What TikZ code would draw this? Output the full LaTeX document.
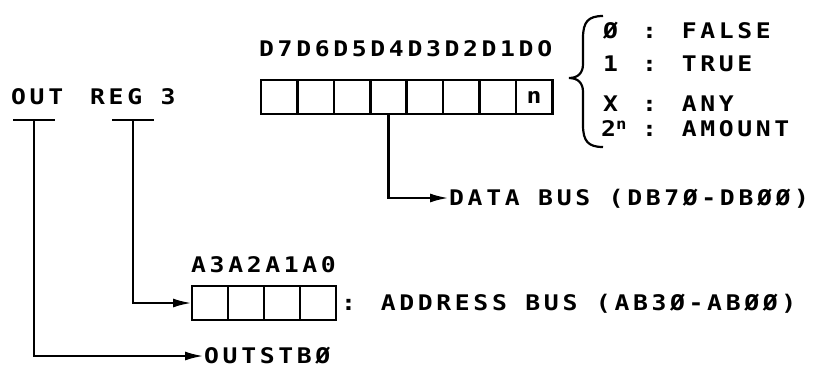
\documentclass[tikz,border=0pt]{standalone}
\usepackage{fontspec}
\usepackage{tikz}
\usetikzlibrary{positioning, arrows.meta}
\newfontfamily\printfont[FakeStretch=1.15,LetterSpace=17]{DejaVu Sans Mono Bold}

\begin{document}
\begin{tikzpicture}[x=1pt,y=-1pt,>={Latex[length=19pt,width=9pt]},
                    cell/.style={draw,line width=2.6pt,minimum width=36.4pt,minimum height=34pt,inner sep=0pt,outer sep=0pt,font=\printfont\fontsize{21.5}{25}\selectfont},
                    lbl/.style={anchor=west,inner sep=0pt,text height=15.7pt,text depth=0pt,font=\printfont\fontsize{21.5}{25}\selectfont},
                    wire/.style={line width=2.6pt}]

  \useasboundingbox (0,0) rectangle (813,368);

  % data register
  \node[cell] (d7) at (279.2,97) {};
  \node[cell] (d6) [right=0pt of d7] {};
  \node[cell] (d5) [right=0pt of d6] {};
  \node[cell] (d4) [right=0pt of d5] {};
  \node[cell] (d3) [right=0pt of d4] {};
  \node[cell] (d2) [right=0pt of d3] {};
  \node[cell] (d1) [right=0pt of d2] {};
  \node[cell] (d0) [right=0pt of d1] {n};
  \node[lbl] (dbits) at (259,49) {D7D6D5D4D3D2D1DO};

  % address register
  \node[cell,minimum width=36pt] (a3) at (210,303) {};
  \node[cell,minimum width=36pt] (a2) [right=0pt of a3] {};
  \node[cell,minimum width=36pt] (a1) [right=0pt of a2] {};
  \node[cell,minimum width=36pt] (a0) [right=0pt of a1] {};
  \node[lbl] (abits) at (191,265) {A3A2A1A0};
  \node[lbl] (abus) [right=5pt of a0] {: ADDRESS BUS (AB3Ø-ABØØ)};

  % instruction
  \node[lbl] (out) at (11,97) {OUT};
  \node[lbl] (reg) at (90,97) {REG 3};
  \coordinate (outtap) at (34,120);
  \coordinate (regtap) at (133,120);
  \draw[wire] ([xshift=-21pt]outtap) -- ([xshift=21pt]outtap);
  \draw[wire] ([xshift=-21pt]regtap) -- ([xshift=21pt]regtap);

  \node[lbl] (dbus) at (449,198) {DATA BUS (DB7Ø-DBØØ)};
  \node[lbl] (ostb) at (204,356) {OUTSTBØ};

  \draw[wire,->] (d4.south) |- (dbus.west);
  \draw[wire,->] (regtap) |- (a3.west);
  \draw[wire,->] (outtap) |- (ostb.west);

  % legend
  \draw[line width=2.2pt] (603,16) .. controls (588,16) and (583,22) .. (583,38) -- (583,64)
    .. controls (583,73) and (578,78) .. (569,78) .. controls (578,78) and (583,83) .. (583,92)
    -- (583,125) .. controls (583,141) and (588,147) .. (603,147);

  \node[lbl] (k0) at (603,31) {Ø};
  \node[lbl] (k1) at (603,64) {1};
  \node[lbl] (kx) at (603,104) {X};
  \node[lbl] (kn) at (601,129) {2\textsuperscript{n}};
  \node[lbl] (m0) at (642,31) {: FALSE};
  \node[lbl] (m1) at (642,64) {: TRUE};
  \node[lbl] (mx) at (642,104) {: ANY};
  \node[lbl] (mn) at (642,129) {: AMOUNT};

\end{tikzpicture}
\end{document}
